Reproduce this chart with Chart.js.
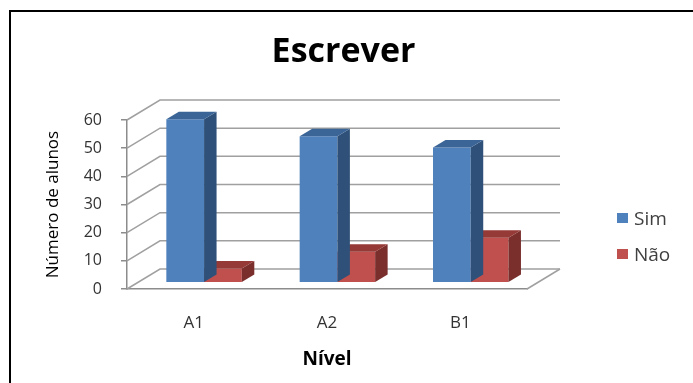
<!DOCTYPE html>
<html>
<head>
<meta charset="utf-8">
<script src="https://cdn.jsdelivr.net/npm/chart.js@4.4.1/dist/chart.umd.min.js"></script>
<style>
  html, body { margin: 0; padding: 0; background: #fff; }
  #wrap { position: relative; width: 693px; height: 383px; overflow: hidden; }
  #grafico { position: absolute; left: 0; top: 0; }
  #moldura {
    position: absolute; left: 9px; top: 10px; width: 720px; height: 400px;
    border-top: 2px solid #000; border-left: 2px solid #000; pointer-events: none;
  }
  #legenda { position: absolute; left: 617px; top: 205px; font-family: "Open Sans", sans-serif; font-size: 19px; color: #404040; }
  #legenda .item { display: flex; align-items: center; height: 26px; margin-bottom: 10px; }
  #legenda .cor { width: 11px; height: 10px; margin-right: 6px; }
</style>
</head>
<body>
<div id="wrap">
  <canvas id="grafico" width="693" height="383"></canvas>
  <div id="legenda"></div>
  <div id="moldura"></div>
</div>
<script>
const categorias = ["A1", "A2", "B1"];
const sim = [58, 52, 48];
const nao = [5, 11, 16];

// oblique offsets: back wall, bar plane, bar thickness
const parede = { dx: 33, dy: 20 };
const plano = { dx: 10.4, dy: 6.3 };
const fundo = { dx: 12.5, dy: 7.5 };

const caixa3d = {
  id: "caixa3d",
  beforeDatasetsDraw(chart) {
    const { ctx, chartArea: a, scales: { y } } = chart;
    ctx.save();
    ctx.lineWidth = 1.5;
    ctx.strokeStyle = "#a0a0a0";
    y.ticks.forEach(function (t) {
      const py = y.getPixelForValue(t.value);
      ctx.beginPath();
      ctx.moveTo(a.left, py);
      ctx.lineTo(a.left + parede.dx, py - parede.dy);
      ctx.lineTo(a.right + parede.dx, py - parede.dy);
      ctx.stroke();
    });
    const p0 = y.getPixelForValue(0);
    ctx.beginPath();
    ctx.moveTo(a.right, p0);
    ctx.lineTo(a.right + parede.dx, p0 - parede.dy);
    ctx.stroke();
    ctx.restore();

    // bars sit a bit behind the front plane
    ctx.save();
    ctx.translate(plano.dx, -plano.dy);
  },
  afterDatasetDraw(chart, args) {
    const ctx = chart.ctx;
    const ds = chart.data.datasets[args.index];
    args.meta.data.forEach(function (el) {
      const p = el.getProps(["x", "y", "base", "width"], true);
      const l = p.x - p.width / 2, r = p.x + p.width / 2;
      const top = Math.min(p.y, p.base), bot = Math.max(p.y, p.base);
      ctx.fillStyle = ds.corLado;
      ctx.beginPath();
      ctx.moveTo(r, top);
      ctx.lineTo(r + fundo.dx, top - fundo.dy);
      ctx.lineTo(r + fundo.dx, bot - fundo.dy);
      ctx.lineTo(r, bot);
      ctx.closePath();
      ctx.fill();
      ctx.fillStyle = ds.corTopo;
      ctx.beginPath();
      ctx.moveTo(l, top);
      ctx.lineTo(l + fundo.dx, top - fundo.dy);
      ctx.lineTo(r + fundo.dx, top - fundo.dy);
      ctx.lineTo(r, top);
      ctx.closePath();
      ctx.fill();
    });
  },
  afterDatasetsDraw(chart) {
    chart.ctx.restore();
  },
};

const chart = new Chart(document.getElementById("grafico"), {
  type: "bar",
  data: {
    labels: categorias,
    datasets: [
      {
        label: "Sim",
        data: sim,
        backgroundColor: "#4f81bd",
        corLado: "#2f5179",
        corTopo: "#3b6597",
        borderWidth: 0,
        clip: false,
      },
      {
        label: "Não",
        data: nao,
        backgroundColor: "#c0504d",
        corLado: "#7a2f2d",
        corTopo: "#963a37",
        borderWidth: 0,
        clip: false,
      },
    ],
  },
  options: {
    responsive: false,
    animation: false,
    devicePixelRatio: 1,
    layout: { padding: { left: 0, right: 6, top: 0, bottom: 0 } },
    datasets: { bar: { categoryPercentage: 0.566, barPercentage: 1 } },
    plugins: {
      legend: { display: false },
      tooltip: { enabled: false },
      title: {
        display: true,
        text: "Escrever",
        color: "#000",
        font: { family: "Open Sans", size: 34, weight: "bold", lineHeight: 1.2 },
        padding: { top: 31.6, bottom: 47.6 },
      },
    },
    scales: {
      x: {
        afterFit: function (scale) { scale.height = 94; },
        grid: { display: false },
        border: { display: true, color: "#8c8c8c", width: 1.5 },
        ticks: {
          color: "#333",
          padding: 15.5,
          font: { family: "Open Sans", size: 17 },
        },
        title: {
          display: true,
          text: "Nível",
          color: "#000",
          font: { family: "Open Sans", size: 19, weight: "bold", lineHeight: 1.2 },
          padding: { top: 0, bottom: 12 },
        },
      },
      y: {
        min: 0,
        max: 60,
        afterFit: function (scale) { scale.width = 127; },
        grid: { drawOnChartArea: false, drawTicks: true, tickLength: 6, color: "#8c8c8c", lineWidth: 1.5 },
        border: { display: true, color: "#8c8c8c", width: 1.5 },
        ticks: {
          stepSize: 10,
          color: "#333",
          padding: 19,
          font: { family: "Open Sans", size: 16 },
        },
        title: {
          display: true,
          text: "Número de alunos",
          color: "#000",
          font: { family: "Open Sans", size: 17, lineHeight: 1.2 },
          padding: { top: 43, bottom: 0 },
        },
      },
      // empty right-hand strip that holds the legend column
      margem: {
        position: "right",
        afterFit: function (scale) { scale.width = 160; },
        grid: { display: false },
        border: { display: false },
        ticks: { display: false },
      },
    },
  },
  plugins: [caixa3d],
});

// legend built from the chart's own datasets
const legenda = document.getElementById("legenda");
chart.data.datasets.forEach(function (ds) {
  const item = document.createElement("div");
  item.className = "item";
  const cor = document.createElement("span");
  cor.className = "cor";
  cor.style.background = ds.backgroundColor;
  const txt = document.createElement("span");
  txt.textContent = ds.label;
  item.appendChild(cor);
  item.appendChild(txt);
  legenda.appendChild(item);
});
</script>
</body>
</html>
